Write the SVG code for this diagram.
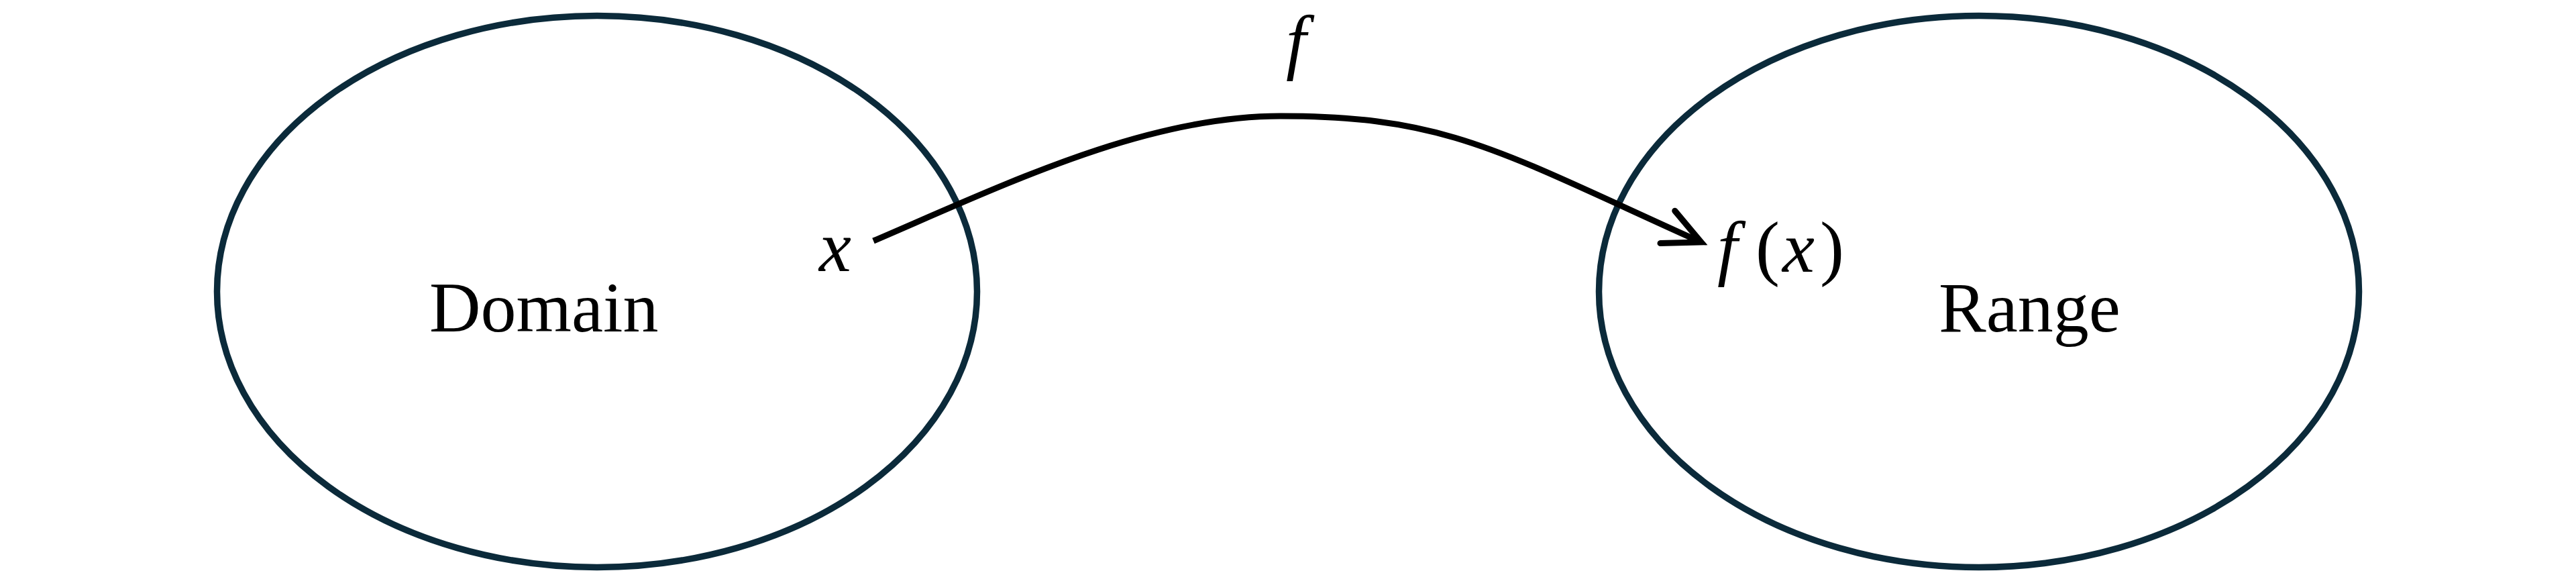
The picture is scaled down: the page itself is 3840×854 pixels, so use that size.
<svg xmlns="http://www.w3.org/2000/svg" width="3840" height="854" viewBox="0 0 3840 854">
<style>
.set{fill:none;stroke:#0b2a3a;stroke-width:9.5}
.lbl{font-family:"Liberation Serif","Times New Roman",serif;font-size:106px;fill:#000}
.math{font-family:"Liberation Serif","Times New Roman",serif;font-size:108px;fill:#000}
.it{font-style:italic}
.conn{fill:none;stroke:#000;stroke-width:9}
</style>
<defs>
<marker id="arrow" markerUnits="userSpaceOnUse" viewBox="-70 -40 80 80" markerWidth="80" markerHeight="80" refX="0" refY="0" orient="auto" overflow="visible">
<path d="M-55,-26.5 L0,0 L-55,26.5" fill="none" stroke="#000" stroke-width="9" stroke-linecap="round" stroke-linejoin="miter"/>
</marker>
</defs>
<rect width="3840" height="854" fill="#fff"/>
<g id="domain">
<ellipse class="set" cx="890" cy="434.5" rx="566.5" ry="411"/>
<text class="lbl" x="640" y="494">Domain</text>
<text class="math it" x="1221" y="404">x</text>
</g>
<g id="range">
<ellipse class="set" cx="2950" cy="434.5" rx="566.5" ry="411"/>
<text class="lbl" x="2890" y="494">Range</text>
<text class="math" y="405"><tspan class="it" x="2560">f</tspan><tspan x="2617">(</tspan><tspan class="it" x="2657">x</tspan><tspan x="2713">)</tspan></text>
</g>
<g id="connectors">
<path class="conn" d="M1302,359 C1502,273 1709,173 1909,173 C2159,173 2236,226 2536,361" marker-end="url(#arrow)"/>
<text class="math it" x="1932" y="98" text-anchor="middle">f</text>
</g>
</svg>
